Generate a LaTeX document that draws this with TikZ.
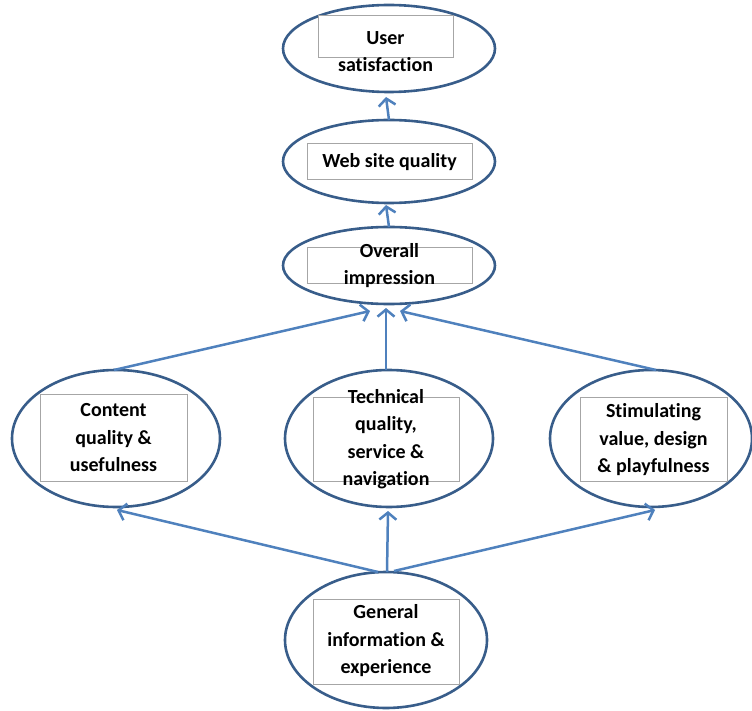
\documentclass[tikz,border=0pt]{standalone}
\usepackage{fontspec}
\setmainfont{Carlito}[Ligatures=NoCommon]
\usetikzlibrary{arrows.meta,shapes.geometric,calc}
\definecolor{ell}{HTML}{385D8A}
\definecolor{arr}{HTML}{4F81BD}
\definecolor{boxc}{HTML}{A6A6A6}
\begin{document}
\begin{tikzpicture}[x=1pt,y=-1pt,
  oval/.style={draw=ell,line width=2.6pt,ellipse,fill=white,inner sep=0pt,outer sep=0pt},
  rbox/.style={draw=boxc,line width=0.8pt,fill=white,inner sep=0pt,outer sep=0pt},
  lbl/.style={font=\bfseries\fontsize{20}{27.5}\selectfont,align=center,inner sep=0pt},
  conn/.style={draw=arr,line width=2.5pt,-{Straight Barb[length=7pt,width=17pt]}}]
\useasboundingbox (0,0) rectangle (752,711);
% ellipses
\node[oval,minimum width=212,minimum height=87] (US) at (389,48.5) {};
\node[oval,minimum width=212,minimum height=83] (Web) at (389,161.5) {};
\node[oval,minimum width=212,minimum height=77] (O) at (389,265.5) {};
\node[oval,minimum width=208,minimum height=137] (L) at (116,438.5) {};
\node[oval,minimum width=208,minimum height=137] (C) at (389,438.5) {};
\node[oval,minimum width=202,minimum height=137] (R) at (651,438.5) {};
\node[oval,minimum width=202,minimum height=136] (B) at (386,640) {};
% inner boxes
\node[rbox,minimum width=135,minimum height=42] (USr) at (385.5,36) {};
\node[rbox,minimum width=165,minimum height=36] (Webr) at (389.5,161) {};
\node[rbox,minimum width=165,minimum height=36] (Or) at (389.5,265) {};
\node[rbox,minimum width=147,minimum height=87] (Lr) at (113.5,437.5) {};
\node[rbox,minimum width=146,minimum height=84] (Cr) at (386,439) {};
\node[rbox,minimum width=147,minimum height=84] (Rr) at (653.5,439) {};
\node[rbox,minimum width=146,minimum height=85] (Br) at (386,641.5) {};
% labels
\node[lbl] (USt) at (385.5,51.5) {User\\satisfaction};
\node[lbl] (Webt) at (389.5,162) {Web site quality};
\node[lbl] (Ot) at (389.5,265.5) {Overall\\impression};
\node[lbl] (Lt) at (113.5,438) {Content\\quality \&\\usefulness};
\node[lbl] (Ct) at (386,439) {Technical\\quality,\\service \&\\navigation};
\node[lbl] (Rt) at (653.5,440) {Stimulating\\value, design\\\& playfulness};
\node[lbl] (Bt) at (386,641) {General\\information \&\\experience};
% connectors
\draw[conn] (Web.north) -- ($(US.south)+(-3,5)$);
\draw[conn] (O.north) -- ($(Web.south)+(-3,2)$);
\draw[conn] ($(C.north)+(-3,0)$) -- ($(O.south)+(-3,4)$);
\draw[conn] ($(L.north)+(-2,0)$) -- ($(O.south)+(-19,7)$);
\draw[conn] ($(R.north)+(5,0)$) -- ($(O.south)+(11,7)$);
\draw[conn] ($(B.north)+(-8,0)$) -- ($(L.south)+(1,3)$);
\draw[conn] ($(B.north)+(1,0)$) -- ($(C.south)+(-1,4)$);
\draw[conn] ($(B.north)+(8,-1)$) -- ($(R.south)+(4,3)$);
\end{tikzpicture}
\end{document}
